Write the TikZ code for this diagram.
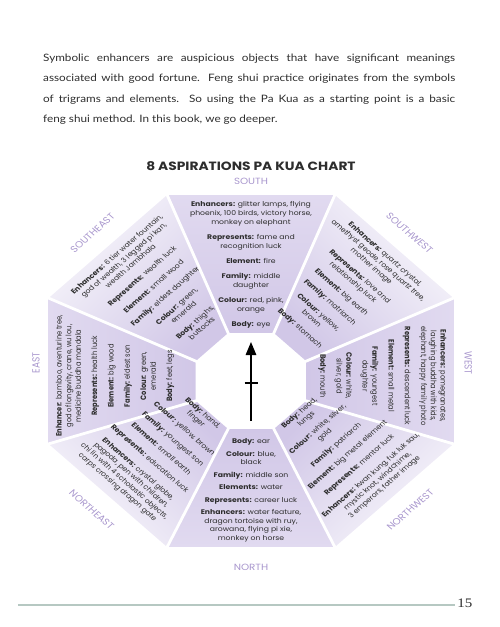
\documentclass[tikz,border=0pt]{standalone}
\usepackage{fontspec}
\usetikzlibrary{arrows.meta,calc}
\newfontfamily\chartfont{Poppins}
\newfontfamily\bodyfont{Lato}
\newfontfamily\foliofont{Liberation Serif}
\definecolor{lavender}{RGB}{209,199,231}
\definecolor{lavpale}{RGB}{225,218,240}
\definecolor{lavwhite}{RGB}{249,248,252}
\definecolor{compass}{RGB}{168,150,205}
\definecolor{rulegreen}{RGB}{182,200,194}
\definecolor{ink}{RGB}{45,45,45}
\newcommand{\nextentry}{\\[5.8pt]}
\newcommand{\tightentry}{\\[4.2pt]}
\tikzset{
  sectortext/.style={font=\chartfont\fontsize{6.7}{8.4}\selectfont, align=center, inner sep=0pt, text=ink},
  compasslabel/.style={font=\chartfont\fontsize{9}{10}\selectfont, text=compass, inner sep=0pt},
}

\begin{document}
\begin{tikzpicture}[x=1pt,y=1pt,xscale=1.15,every node/.append style={transform shape}]
\useasboundingbox (-218.26,-256) rectangle (216.52,371);

\node[anchor=north west, text width=358.3pt, align=justify, inner sep=0pt,
  font=\bodyfont\fontsize{10.2}{20.6}\selectfont, text=ink] (intro) at (-180.9,317.6)
  {Symbolic enhancers are auspicious objects that have significant meanings\linebreak
   associated with good fortune. Feng shui practice originates from the symbols\linebreak
   of trigrams and elements. So using the Pa Kua as a starting point is a basic\linebreak
   feng shui method. In this book, we go deeper.};

\node[font=\chartfont\bfseries\fontsize{12}{14}\selectfont, text=ink] (title) at (0,205) {8 ASPIRATIONS PA KUA CHART};

\foreach \k in {1,...,8} {
  \coordinate (o\k) at ({45*\k-22.5}:190.5);
  \coordinate (i\k) at ($(0,-10)+({45*\k-22.5}:52)$);
}
\foreach \p/\q/\g/\c in {1/2/-45/lavwhite,2/3/0/lavpale,3/4/45/lavwhite,4/5/90/lavpale,5/6/135/lavwhite,6/7/180/lavpale,7/8/225/lavwhite,8/1/-90/lavpale}
  \shade[top color=\c, bottom color=lavender, shading angle=\g] (o\p) -- (o\q) -- (i\q) -- (i\p) -- cycle;
\foreach \k in {1,...,8}
  \draw[white, line width=2.8pt, shorten <=-5pt, shorten >=-5pt] (i\k) -- (o\k);

\coordinate (tail) at (0,-50);
\coordinate (tip) at (0,29);
\coordinate (barl) at (-5.5,-12);
\coordinate (barr) at (6,-12);
\draw[line width=1.4pt, -{Triangle[length=13pt,width=10.5pt]}] (tail) -- (tip);
\draw[line width=1.1pt] (barl) -- (barr);

\node[sectortext, font=\chartfont\fontsize{6.7}{9}\selectfont, anchor=north] (south) at (0,170)
  {\textbf{Enhancers:} glitter lamps, flying\\phoenix, 100 birds, victory horse,\\monkey on elephant\\[6pt]
   \textbf{Represents:} fame and\\recognition luck\\[6pt]
   \textbf{Element:} fire\\[6pt]
   \textbf{Family:} middle\\daughter\\[6pt]
   \textbf{Colour:} red, pink,\\orange\\[6pt]
   \textbf{Body:} eye};
\node[sectortext, anchor=north, rotate=45] (southeast) at (135:168)
  {\textbf{Enhancers:} 6 tier water fountain,\\god of wealth, 3 legged pi kan,\\wealth Jambhala\nextentry
   \textbf{Represents:} wealth luck\nextentry
   \textbf{Element:} small wood\nextentry
   \textbf{Family:} eldest daughter\nextentry
   \textbf{Colour:} green,\\emerald\nextentry
   \textbf{Body:} thighs,\\buttocks};
\node[sectortext, anchor=north, rotate=90] (east) at (-170,-5)
  {\textbf{Enhancer:} bamboo, aventurine tree,\\god of longevity, crane, wu lou,\\medicine buddha mandala\nextentry
   \textbf{Represents:} health luck\nextentry
   \textbf{Element:} big wood\nextentry
   \textbf{Family:} eldest son\nextentry
   \textbf{Colour:} green,\\emerald\nextentry
   \textbf{Body:} feet, legs};
\node[sectortext, anchor=north, rotate=-45] (southwest) at (45:168)
  {\textbf{Enhancers:} quartz crystal,\\amethyst geode, rose quartz tree,\\mother image\nextentry
   \textbf{Represents:} love and\\relationship luck\nextentry
   \textbf{Element:} big earth\nextentry
   \textbf{Family:} matriarch\nextentry
   \textbf{Colour:} yellow,\\brown\nextentry
   \textbf{Body:} stomach};
\node[sectortext, anchor=north, rotate=-90] (west) at (170,-5)
  {\textbf{Enhancers:} pomegranates,\\laughing buddha with kids,\\elephant, happy family photo\nextentry
   \textbf{Represents:} descendent luck\nextentry
   \textbf{Element:} small metal\nextentry
   \textbf{Family:} youngest\\daughter\nextentry
   \textbf{Colour:} white,\\silver, gold\nextentry
   \textbf{Body:} mouth};
\node[sectortext, anchor=south] (north) at (0,-171)
  {\textbf{Body:} ear\tightentry
   \textbf{Colour:} blue,\\black\tightentry
   \textbf{Family:} middle son\tightentry
   \textbf{Elements:} water\tightentry
   \textbf{Represents:} career luck\tightentry
   \textbf{Enhancers:} water feature,\\dragon tortoise with ruy,\\arowana, flying pi xie,\\monkey on horse};
\node[sectortext, anchor=south, rotate=-45] (northeast) at (225:168)
  {\textbf{Body:} hand,\\finger\nextentry
   \textbf{Colour:} yellow, brown\nextentry
   \textbf{Family:} youngest son\nextentry
   \textbf{Element:} small earth\nextentry
   \textbf{Represents:} education luck\nextentry
   \textbf{Enhancers:} crystal globe,\\pagoda, pen with children,\\chi lin with 4 scholastic objects,\\carps crossing dragon gate};
\node[sectortext, anchor=south, rotate=45] (northwest) at (315:168)
  {\textbf{Body:} head,\\lungs\nextentry
   \textbf{Colour:} white, silver,\\gold\nextentry
   \textbf{Family:} patriarch\nextentry
   \textbf{Element:} big metal element\nextentry
   \textbf{Represents:} mentor luck\nextentry
   \textbf{Enhancers:} kwan kung, fuk luk sau,\\mystic knot, windchime,\\3 emperors, father image};

\node[compasslabel] (lsouth) at (0,190) {SOUTH};
\node[compasslabel, rotate=45] (lsoutheast) at (135:195) {SOUTHEAST};
\node[compasslabel, rotate=90] (least) at (-187,8) {EAST};
\node[compasslabel, rotate=-45] (lnortheast) at (225:196) {NORTHEAST};
\node[compasslabel] (lnorth) at (0,-196) {NORTH};
\node[compasslabel, rotate=45] (lnorthwest) at (315:196) {NORTHWEST};
\node[compasslabel, rotate=-90] (lwest) at (189,8) {WEST};
\node[compasslabel, rotate=-45] (lsouthwest) at (45:195) {SOUTHWEST};

\coordinate (rulel) at (-202.6,-234);
\coordinate (ruler) at (177.4,-234);
\draw[rulegreen, line width=2.4pt] (rulel) -- (ruler);
\node[font=\foliofont\fontsize{13}{13}\selectfont, text=ink] (folio) at (186,-232) {15};
\end{tikzpicture}
\end{document}
